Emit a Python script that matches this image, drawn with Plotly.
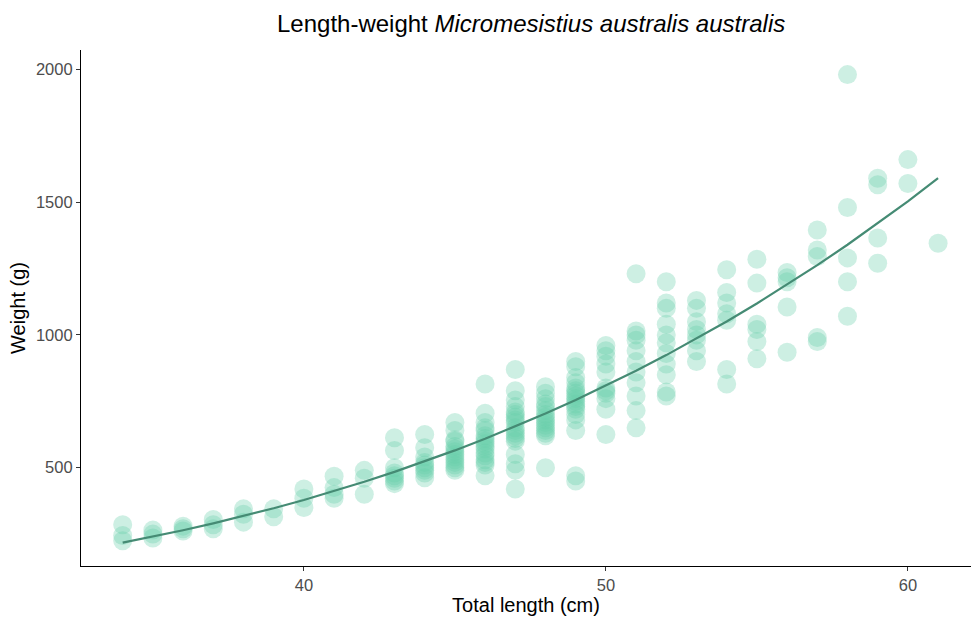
import numpy as np
import plotly.graph_objects as go

# Observed weights (g) grouped by total length (cm)
lengths = list(range(34, 62))
weights_by_length = [
    [285, 245, 225],
    [265, 250, 235],
    [280, 270, 262],
    [305, 285, 270],
    [345, 325, 295],
    [345, 315],
    [420, 385, 350],
    [468, 425, 400, 385],
    [490, 460, 400],
    [613, 565, 500, 480, 470, 460, 450, 440],
    [625, 575, 540, 520, 510, 500, 490, 480, 462],
    [670, 640, 605, 600, 580, 570, 560, 550, 540, 530, 520, 510, 500, 490],
    [815, 705, 670, 650, 640, 620, 610, 600, 590, 580, 570, 555, 545, 530, 520, 510, 470],
    [870, 790, 755, 730, 710, 700, 690, 680, 670, 650, 640, 630, 620, 610, 600, 550, 515, 490, 420],
    [805, 780, 760, 740, 730, 715, 700, 690, 680, 670, 660, 650, 640, 630, 620, 500],
    [900, 880, 840, 820, 800, 790, 780, 770, 760, 750, 740, 730, 720, 700, 680, 640, 470, 450],
    [960, 940, 920, 890, 860, 800, 790, 780, 760, 720, 625],
    [1230, 1015, 1000, 980, 940, 900, 860, 820, 770, 715, 650],
    [1200, 1120, 1100, 1040, 1000, 970, 930, 890, 850, 785, 770],
    [1130, 1100, 1050, 1020, 1000, 980, 940, 900],
    [1245, 1160, 1120, 1080, 1055, 870, 815],
    [1285, 1195, 1040, 1020, 975, 910],
    [1235, 1215, 1200, 1105, 935],
    [1395, 1320, 1295, 990, 975],
    [1980, 1480, 1290, 1200, 1070],
    [1590, 1565, 1365, 1270],
    [1660, 1570],
    [1345],
]

x_ticks = [40, 50, 60]
y_ticks = [500, 1000, 1500, 2000]

x_pts = np.array([L for L, ws in zip(lengths, weights_by_length) for _ in ws], dtype=float)
y_pts = np.array([w for ws in weights_by_length for w in ws], dtype=float)

# Length-weight power model W = a * L^b, nonlinear least squares (Gauss-Newton)
b, log_a = np.polyfit(np.log(x_pts), np.log(y_pts), 1)
a = np.exp(log_a)
for _ in range(50):
    pred = a * x_pts ** b
    r = y_pts - pred
    J = np.column_stack([x_pts ** b, a * x_pts ** b * np.log(x_pts)])
    step, *_ = np.linalg.lstsq(J, r, rcond=None)
    a += step[0]
    b += step[1]
fit_x = np.array(lengths, dtype=float)
fit_y = a * fit_x ** b

fig = go.Figure()
fig.add_trace(go.Scatter(
    x=x_pts, y=y_pts, mode="markers",
    marker=dict(size=19, color="rgba(102,205,170,0.33)", line=dict(width=0)),
    hoverinfo="x+y", showlegend=False))
fig.add_trace(go.Scatter(
    x=fit_x, y=fit_y, mode="lines",
    line=dict(color="#458B74", width=2.2), showlegend=False))

font = "Liberation Sans, Arial, sans-serif"
fig.update_layout(
    width=971, height=618,
    margin=dict(l=81, r=0, t=50, b=52),
    paper_bgcolor="white", plot_bgcolor="white",
    font=dict(family=font, color="black"),
    title=dict(text="Length-weight <i>Micromesistius australis australis</i>",
               x=0.547, xanchor="center", y=0.962, yanchor="middle",
               font=dict(size=24, color="black", family=font)),
    xaxis=dict(range=[32.62, 62.09], tickvals=x_ticks, showgrid=False, zeroline=False,
               showline=True, linecolor="black", linewidth=1.2,
               ticks="outside", ticklen=4, tickcolor="#333333", tickwidth=1,
               tickfont=dict(size=16.5, color="#4d4d4d", family=font),
               title=dict(text="Total length (cm)", font=dict(size=20, color="black", family=font),
                          standoff=2)),
    yaxis=dict(range=[129.9, 2072.7], tickvals=y_ticks, showgrid=False, zeroline=False,
               showline=True, linecolor="black", linewidth=1.2,
               ticks="outside", ticklen=4, tickcolor="#333333", tickwidth=1,
               tickfont=dict(size=16.5, color="#4d4d4d", family=font),
               title=dict(text="Weight (g)", font=dict(size=20, color="black", family=font),
                          standoff=4)),
)

fig.write_html("out.html")
